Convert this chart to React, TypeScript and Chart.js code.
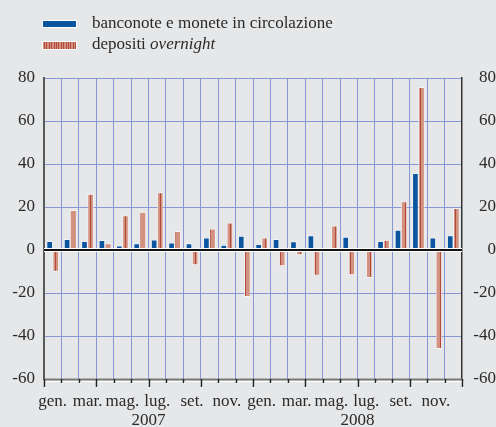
import React, { useEffect, useRef } from 'react';
import { Chart, registerables } from 'chart.js';

Chart.register(...registerables);

const months = ['gen.', 'feb.', 'mar.', 'apr.', 'mag.', 'giu.', 'lug.', 'ago.', 'set.', 'ott.', 'nov.', 'dic.'];
const years = ['2007', '2008'];
const categories = years.flatMap((y) => months.map((m) => `${m} ${y}`));

const banconote = [4, 5, 4, 4.5, 2, 3, 4.8, 3.4, 3, 5.7, 2.3, 6.5, 2.6, 5, 3.9, 6.7, -1, 6, 0.3, 4, 9.3, 35.7, 5.7, 6.7];
const depositi = [-10, 18.5, 26, 3, 16, 17.7, 26.7, 8.7, -7, 9.9, 12.7, -21.7, 5.7, -7.4, -2.3, -11.8, 11.2, -11.6, -12.9, 4.6, 22.5, 75.7, -45.9, 19.4];

const legendLabels = ['banconote e monete in circolazione', 'depositi ', 'overnight'];
const yMin = -60;
const yMax = 80;
const yStep = 20;

const BG = '#e6e7e9';
const BLUE = '#0b55a0';
const SALMON = '#d3917f';
const DARKRED = '#b24a3c';
const GRID = '#8797d6';
const FONT = '"Liberation Serif", "Times New Roman", serif';
const FS = 17;

function makePattern(period: number, stripe: number): CanvasPattern | string {
  const c = document.createElement('canvas');
  c.width = period;
  c.height = 4;
  const g = c.getContext('2d');
  if (!g) return SALMON;
  g.fillStyle = SALMON;
  g.fillRect(0, 0, period, 4);
  g.fillStyle = DARKRED;
  g.fillRect(0, 0, stripe, 4);
  const p = g.createPattern(c, 'repeat');
  return p || SALMON;
}

const overlay = {
  id: 'overlay',
  afterDatasetsDraw(chart: any) {
    const { ctx, chartArea, scales } = chart;
    const y0 = scales.y.getPixelForValue(0);
    ctx.save();
    ctx.strokeStyle = '#ffffff';
    ctx.lineWidth = 4;
    ctx.beginPath();
    ctx.moveTo(chartArea.left, y0);
    ctx.lineTo(chartArea.right, y0);
    ctx.stroke();
    ctx.strokeStyle = '#111111';
    ctx.lineWidth = 2;
    ctx.beginPath();
    ctx.moveTo(chartArea.left, y0);
    ctx.lineTo(chartArea.right, y0);
    ctx.stroke();
    ctx.restore();
  },
  afterDraw(chart: any) {
    const { ctx, chartArea, scales } = chart;
    const xs = scales.x;
    const n = categories.length;
    const w = (chartArea.right - chartArea.left) / n;
    const bottom = chartArea.bottom;
    ctx.save();
    ctx.strokeStyle = '#ffffff';
    ctx.lineWidth = 1;
    ctx.beginPath();
    ctx.moveTo(chartArea.left, bottom + 2.5);
    ctx.lineTo(chartArea.right, bottom + 2.5);
    ctx.stroke();
    ctx.strokeStyle = '#7a7a7a';
    ctx.lineWidth = 2;
    ctx.beginPath();
    ctx.moveTo(chartArea.left, bottom + 0.5);
    ctx.lineTo(chartArea.right, bottom + 0.5);
    ctx.stroke();
    for (let i = 0; i <= n; i++) {
      const x = Math.round(chartArea.left + i * w) + 0.5;
      const len = i % 3 === 0 ? 8 : 4;
      ctx.strokeStyle = '#ffffff';
      ctx.lineWidth = 1;
      ctx.beginPath();
      ctx.moveTo(x + 1, bottom + 2);
      ctx.lineTo(x + 1, bottom + len + 1);
      ctx.stroke();
      ctx.strokeStyle = '#222222';
      ctx.lineWidth = 1.5;
      ctx.beginPath();
      ctx.moveTo(x, bottom);
      ctx.lineTo(x, bottom + len);
      ctx.stroke();
    }
    ctx.fillStyle = '#2a2a2a';
    ctx.font = `${FS}px ${FONT}`;
    ctx.textAlign = 'center';
    ctx.textBaseline = 'alphabetic';
    for (let i = 0; i < n; i += 2) {
      ctx.fillText(months[i % 12], xs.getPixelForValue(i), 406);
    }
    years.forEach((yr, k) => {
      const a = xs.getPixelForValue(k * 12 + 5);
      const b = xs.getPixelForValue(k * 12 + 6);
      ctx.fillText(yr, (a + b) / 2, 425);
    });
    ctx.textAlign = 'left';
    ctx.fillStyle = '#ffffff';
    ctx.fillRect(42, 20, 35, 8);
    ctx.fillStyle = BLUE;
    ctx.fillRect(43, 21, 33, 6);
    ctx.fillStyle = '#ffffff';
    ctx.fillRect(42, 41, 35, 9);
    ctx.fillStyle = SALMON;
    ctx.fillRect(43, 42, 33, 7);
    ctx.fillStyle = DARKRED;
    for (let x = 44; x < 76; x += 2.4) {
      ctx.fillRect(Math.round(x), 42, 1, 7);
    }
    ctx.fillStyle = '#2a2a2a';
    ctx.font = `${FS}px ${FONT}`;
    ctx.fillText(legendLabels[0], 92, 28);
    ctx.fillText(legendLabels[1], 92, 49);
    const wd = ctx.measureText(legendLabels[1]).width;
    ctx.font = `italic ${FS}px ${FONT}`;
    ctx.fillText(legendLabels[2], 92 + wd, 49);
    ctx.restore();
  },
};

export default function App() {
  const ref = useRef<HTMLCanvasElement | null>(null);
  useEffect(() => {
    if (!ref.current) return;
    const pattern = makePattern(5, 1);
    const chart = new Chart(ref.current, {
      type: 'bar',
      data: {
        labels: categories,
        datasets: [
          {
            label: legendLabels[0],
            data: banconote,
            backgroundColor: BLUE,
            borderColor: '#ffffff',
            borderWidth: 0.7,
            borderSkipped: false,
            inflateAmount: 0,
            categoryPercentage: 0.7,
            barPercentage: 1,
          },
          {
            label: legendLabels[1] + legendLabels[2],
            data: depositi,
            backgroundColor: pattern as any,
            borderColor: '#ffffff',
            borderWidth: 0.7,
            borderSkipped: false,
            inflateAmount: 0,
            categoryPercentage: 0.7,
            barPercentage: 1,
          },
        ],
      },
      options: {
        responsive: false,
        animation: false,
        layout: { padding: { top: 78, left: 0, right: 0, bottom: 0 } },
        plugins: { legend: { display: false }, tooltip: { enabled: false } },
        scales: {
          x: {
            offset: true,
            grid: { offset: true, color: GRID, lineWidth: 1, drawTicks: false },
            border: { display: false },
            ticks: { display: false },
            afterFit: (s: any) => {
              s.height = 48;
            },
          },
          y: {
            position: 'left',
            min: yMin,
            max: yMax,
            ticks: {
              stepSize: yStep,
              padding: 9,
              color: '#2a2a2a',
              font: { family: FONT, size: FS },
            },
            grid: {
              color: (c: any) => (c.tick && c.tick.value === yMin ? 'rgba(0,0,0,0)' : GRID),
              lineWidth: 1,
              drawTicks: false,
            },
            border: { display: true, color: '#5a5a5a', width: 2 },
            afterFit: (s: any) => {
              s.width = 44;
            },
          },
          y2: {
            position: 'right',
            min: yMin,
            max: yMax,
            ticks: {
              stepSize: yStep,
              padding: 8,
              crossAlign: 'far',
              color: '#2a2a2a',
              font: { family: FONT, size: FS },
            },
            grid: { display: false, drawTicks: false },
            border: { display: true, color: '#333333', width: 1.5 },
            afterFit: (s: any) => {
              s.width = 34;
            },
          },
        },
      },
      plugins: [overlay],
    });
    return () => chart.destroy();
  }, []);
  return (
    <div style={{ position: 'absolute', left: 0, top: 0, width: 496, height: 427, background: BG }}>
      <canvas ref={ref} width={496} height={427} style={{ display: 'block' }} />
    </div>
  );
}
